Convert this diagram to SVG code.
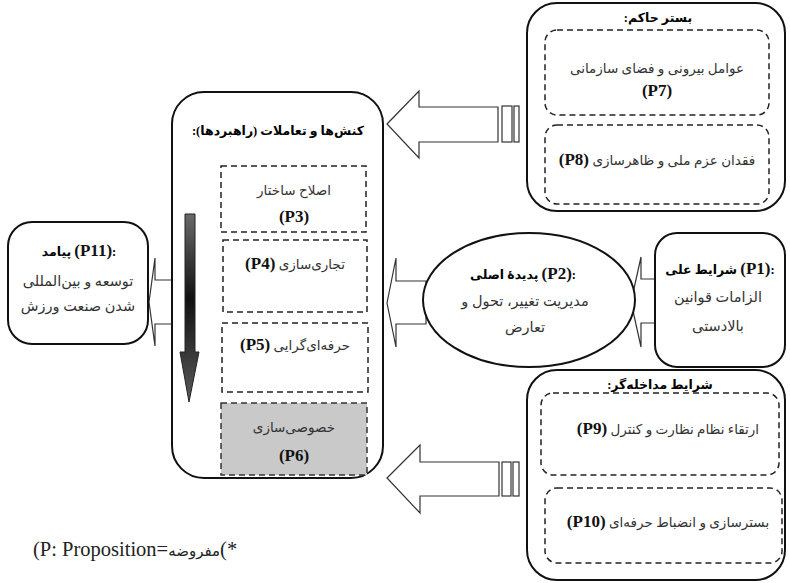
<svg xmlns="http://www.w3.org/2000/svg" width="790" height="583" viewBox="0 0 790 583">
<defs>
<linearGradient id="darr" x1="0" y1="0" x2="0" y2="1">
<stop offset="0" stop-color="#6a6a6a"/>
<stop offset="0.45" stop-color="#111"/>
<stop offset="1" stop-color="#5a5a5a"/>
</linearGradient>
<style>
.box{fill:#fff;stroke:#111;stroke-width:2}
.dash{fill:none;stroke:#222;stroke-width:1.5;stroke-dasharray:6 4}
.arr{fill:#fff;stroke:#333;stroke-width:1.2}
.t{font-family:"Liberation Serif","DejaVu Sans",serif;font-size:13.5px;fill:#333;text-anchor:middle}
.h{font-family:"Liberation Serif","DejaVu Sans",serif;font-size:12.5px;font-weight:bold;fill:#000;text-anchor:middle}
.p{font-family:"Liberation Serif","DejaVu Sans",serif;font-size:17px;font-weight:bold;fill:#111;text-anchor:middle}
.rtl{direction:rtl;unicode-bidi:embed}
.ltr{direction:ltr}
.big{font-size:14.5px}
</style>
</defs>
<rect width="790" height="583" fill="#fff"/>

<g id="connectors">
<polygon class="arr" points="387,124 419,91 419,107 498,107 498,142 419,142 419,158"/>
<rect class="arr" x="502" y="106" width="10" height="36"/>
<rect class="arr" x="514" y="106" width="5" height="36"/>
<polygon class="arr" points="387,478 420,445 420,462 499,462 499,496 420,496 420,513"/>
<rect class="arr" x="502" y="462" width="9" height="34"/>
<rect class="arr" x="513" y="462" width="6" height="34"/>
<polygon class="arr" points="149,302 155,258 155,280 173,280 173,324 155,324 155,346"/>
<polygon class="arr" points="387,303 396,258 396,281 426,281 426,324 396,324 396,347"/>
<polygon class="arr" points="631,302 641,257 641,279 656,279 656,323 641,323 641,347"/>
</g>

<g id="context">
<rect class="box" x="527" y="3" width="258" height="208" rx="30"/>
<text class="h rtl" x="658" y="22">بستر حاکم:</text>
<rect class="dash" x="545" y="30" width="224" height="85" rx="12"/>
<text class="t rtl" x="657" y="73">عوامل بیرونی و فضای سازمانی</text>
<text class="p" x="657" y="96">(P7)</text>
<rect class="dash" x="545" y="125" width="224" height="79" rx="12"/>
<text class="t rtl" x="657" y="165">فقدان عزم ملی و ظاهرسازی <tspan class="p" font-size="16">(P8)</tspan></text>
</g>

<g id="strategies">
<rect class="box" x="172" y="92" width="211" height="386" rx="32"/>
<text class="h rtl" x="278" y="135">کنش‌ها و تعاملات (راهبردها):</text>
<rect class="dash" x="221" y="166" width="145" height="66"/>
<text class="t rtl" x="294" y="195">اصلاح ساختار</text>
<text class="p" x="294" y="222">(P3)</text>
<rect class="dash" x="223" y="240" width="144" height="72"/>
<text class="t rtl" x="295" y="269">تجاری‌سازی <tspan class="p" font-size="16">(P4)</tspan></text>
<rect class="dash" x="222" y="323" width="146" height="69"/>
<text class="t rtl" x="295" y="350">حرفه‌ای‌گرایی <tspan class="p" font-size="16">(P5)</tspan></text>
<rect x="221" y="403" width="146" height="72" fill="#c9c9c9" stroke="#333" stroke-width="1.5" stroke-dasharray="6 4"/>
<text class="t rtl" x="294" y="432">خصوصی‌سازی</text>
<text class="p" x="294" y="461">(P6)</text>
<polygon points="185,214 195,214 195,352 199,352 189,402 180,352 185,352" fill="url(#darr)" stroke="#222" stroke-width="1"/>
</g>

<g id="outcome">
<rect class="box" x="8" y="222" width="140" height="122" rx="24"/>
<text class="h ltr" x="79" y="256">&#x200E;پیامد <tspan class="p" font-size="16">(P11)</tspan>:</text>
<text class="t big rtl" x="78" y="286">توسعه و بین‌المللی</text>
<text class="t big rtl" x="78" y="311">شدن صنعت ورزش</text>
</g>

<g id="phenomenon">
<ellipse class="box" cx="529" cy="300" rx="106" ry="67"/>
<text class="h ltr" x="523" y="279">&#x200E;پدیدهٔ اصلی <tspan class="p" font-size="16">(P2)</tspan>:</text>
<text class="t big rtl" x="525" y="306">مدیریت تغییر، تحول و</text>
<text class="t big rtl" x="525" y="332">تعارض</text>
</g>

<g id="causal">
<rect class="box" x="655" y="233" width="130" height="134" rx="22"/>
<text class="h ltr" x="720" y="274">&#x200E;شرایط علی <tspan class="p" font-size="16">(P1)</tspan>:</text>
<text class="t big rtl" x="718" y="302">الزامات قوانین</text>
<text class="t big rtl" x="718" y="331">بالادستی</text>
</g>

<g id="intervening">
<rect class="box" x="527" y="370" width="258" height="210" rx="30"/>
<text class="h rtl" x="660" y="389">شرایط مداخله‌گر:</text>
<rect class="dash" x="541" y="393" width="238" height="82" rx="12"/>
<text class="t rtl" x="668" y="434">ارتقاء نظام نظارت و کنترل <tspan class="p" font-size="16">(P9)</tspan></text>
<rect class="dash" x="545" y="488" width="237" height="75" rx="12"/>
<text class="t rtl" x="668" y="527">بسترسازی و انضباط حرفه‌ای <tspan class="p" font-size="16">(P10)</tspan></text>
</g>

<text x="33" y="556" font-family="'Liberation Serif','DejaVu Sans',serif" font-size="20.5" fill="#222" direction="ltr">(P: Proposition=<tspan font-size="15">مفروضه</tspan>(*</text>
</svg>
